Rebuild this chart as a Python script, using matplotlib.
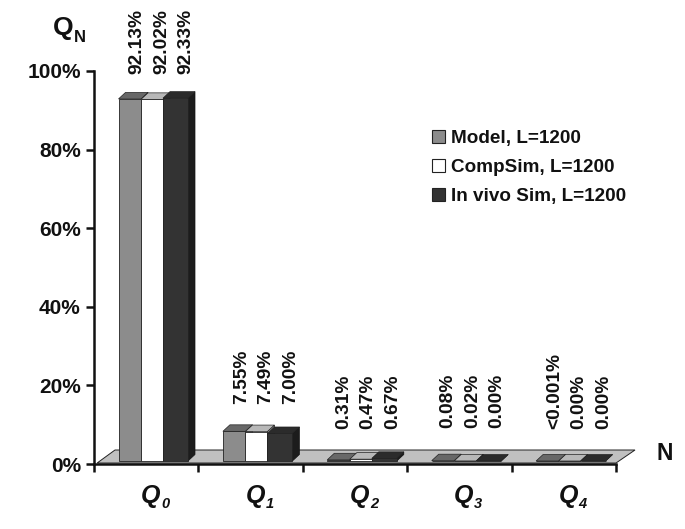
import matplotlib
matplotlib.use('Agg')
import matplotlib.pyplot as plt
from matplotlib.patches import Polygon, Patch

plt.rcParams['font.family'] = ['Liberation Sans', 'DejaVu Sans']
plt.rcParams['font.weight'] = 'bold'

categories = ['Q_0', 'Q_1', 'Q_2', 'Q_3', 'Q_4']
series = ['Model, L=1200', 'CompSim, L=1200', 'In vivo Sim, L=1200']
model = [92.13, 7.55, 0.31, 0.08, 0.001]
compsim = [92.02, 7.49, 0.47, 0.02, 0.00]
invivo = [92.33, 7.00, 0.67, 0.00, 0.00]
model_labels = ['92.13%', '7.55%', '0.31%', '0.08%', '<0.001%']
compsim_labels = ['92.02%', '7.49%', '0.47%', '0.02%', '0.00%']
invivo_labels = ['92.33%', '7.00%', '0.67%', '0.00%', '0.00%']
yticks = [0, 20, 40, 60, 80, 100]

front_colors = ['#8c8c8c', '#ffffff', '#333333']
top_colors = ['#686868', '#b8b8b8', '#2b2b2b']
side_colors = ['#5a5a5a', '#a0a0a0', '#1c1c1c']

# scale of the axes in pixels
px_x = 104.4
px_y = 3.93
dx = 7 / px_x
dy = 6.5 / px_y
base = 3 / px_y

fig = plt.figure(figsize=(6.85, 5.29), dpi=100)
ax = fig.add_axes([94 / 685, (529 - 464) / 529, 522 / 685, 393 / 529])
ax.set_xlim(0, 5)
ax.set_ylim(0, 100)

# grey floor
floor = Polygon([(0.03, 0.25), (5, 0.25), (5 + 19 / px_x, 14 / px_y), (21 / px_x, 14 / px_y)],
                closed=True, facecolor='#c0c0c0', edgecolor='#222222', lw=0.7, clip_on=False, zorder=1)
ax.add_patch(floor)

offsets = [24.5 / px_x, 47 / px_x, 69 / px_x]
widths = [22.5 / px_x, 22 / px_x, 25 / px_x]

for i in range(len(categories)):
    for j, vals in enumerate([model, compsim, invivo]):
        left = i + offsets[j]
        w = widths[j]
        h = vals[i]
        z = 3 + i + j * 0.1
        top = base + h
        ax.add_patch(Polygon([(left + w, base), (left + w + dx, base + dy), (left + w + dx, top + dy), (left + w, top)],
                             facecolor=side_colors[j], edgecolor='#111111', lw=0.5, zorder=z, clip_on=False))
        ax.add_patch(Polygon([(left, top), (left + w, top), (left + w + dx, top + dy), (left + dx, top + dy)],
                             facecolor=top_colors[j], edgecolor='#222222', lw=0.5, zorder=z, clip_on=False))
        ax.bar(left, h, width=w, bottom=base, align='edge', color=front_colors[j],
               edgecolor='#222222', lw=0.6, zorder=z, clip_on=False)

# rotated value labels
label_base = [99.2, 15.3, 8.9, 9.2, 8.9]
label_x = [43 / px_x, 67.5 / px_x, 92 / px_x]
for i in range(len(categories)):
    texts = [model_labels[i], compsim_labels[i], invivo_labels[i]]
    for j in range(3):
        ax.text(i + label_x[j] - 0.02 * (i in (2, 3)), label_base[i], texts[j], rotation=90, ha='center', va='bottom',
                fontsize=13.8, color='#111111', clip_on=False, zorder=20)

# category names
for i, name in enumerate(categories):
    q, sub = name.split('_')
    ax.text(i + 47 / px_x, -9.9, q, ha='left', va='baseline', fontsize=18, style='italic', color='#111111')
    ax.text(i + 67 / px_x, -11.2, sub, ha='left', va='baseline', fontsize=10.5, style='italic', color='#111111')

for s in ['top', 'right']:
    ax.spines[s].set_visible(False)
for s in ['left', 'bottom']:
    ax.spines[s].set_linewidth(1.8)
    ax.spines[s].set_color('#111111')
    ax.spines[s].set_zorder(2)

ax.set_xticks(range(6))
ax.set_xticklabels([])
ax.set_yticks(yticks)
ax.set_yticklabels(['%d%%' % v for v in yticks], fontsize=15, color='#111111')
ax.tick_params(axis='both', length=5.5, width=1.8, color='#111111')
ax.tick_params(axis='y', pad=4)

ax.text(-41 / px_x, 109.2, 'Q', fontsize=19, ha='left', va='baseline', clip_on=False, color='#111111')
ax.text(-20 / px_x, 107.4, 'N', fontsize=12, ha='left', va='baseline', clip_on=False, color='#111111')
ax.text(5 + 41 / px_x, 1.0, 'N', fontsize=16.5, ha='left', va='baseline', clip_on=False, color='#111111')

handles = [Patch(facecolor=front_colors[k], edgecolor='#222222', lw=0.8, label=series[k]) for k in range(3)]
ax.legend(handles=handles, loc='upper left', bbox_to_anchor=(332 / 522, (464 - 124.5) / 393), frameon=False,
          fontsize=13.6, handlelength=0.68, handleheight=0.68, handletextpad=0.35, labelspacing=0.62,
          borderpad=0.3, borderaxespad=0, labelcolor='#111111')

fig.savefig('out.png', dpi=100)
